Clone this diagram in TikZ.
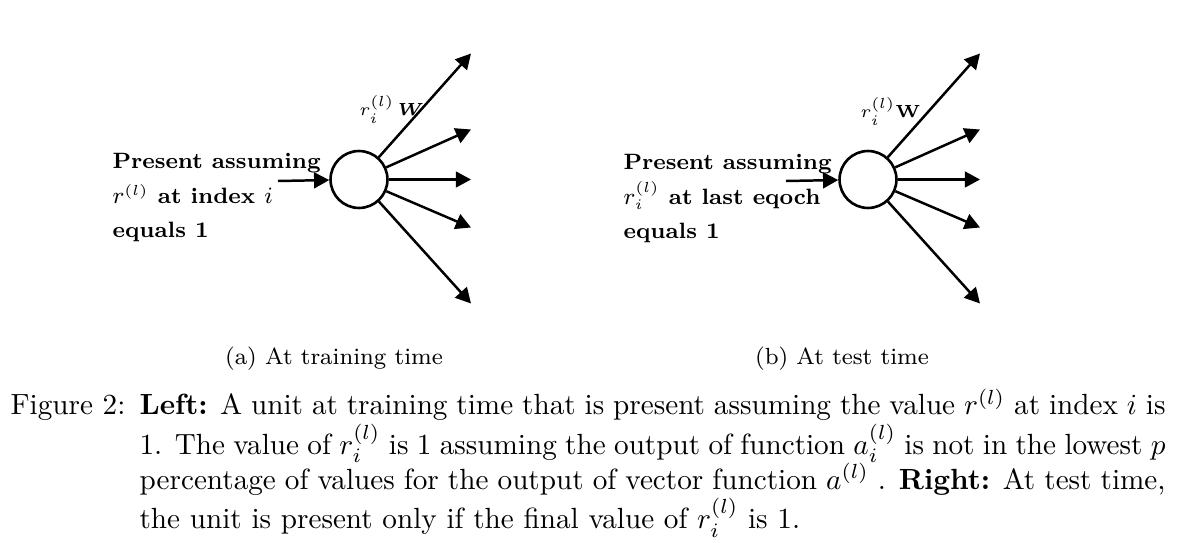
\documentclass[tikz,border=0pt]{standalone}
\usepackage{amsmath,amssymb}
\usetikzlibrary{arrows.meta,positioning}

\begin{document}
\begin{tikzpicture}[x=0.3425pt,y=-0.3425pt,
    unit/.style={circle,draw,line width=0.9pt,minimum size=19.5pt,inner sep=0pt},
    syn/.style={-{Triangle[length=5.2pt,width=5.4pt]},line width=0.85pt},
    cond/.style={font=\fontsize{7.6}{11.9}\selectfont\bfseries,align=left,anchor=base west,inner sep=0pt},
    wlab/.style={font=\fontsize{6.5}{8}\selectfont,anchor=base west,inner sep=0pt},
    sublab/.style={font=\footnotesize,anchor=base,inner sep=0pt}]
  \useasboundingbox (0,0) rectangle (1181,543);

  % left: training time
  \node[unit] (n_1) at (359,179.5) {};
  \node[cond] (c_1) at (112,238) {Present assuming\\$r^{(l)}$ at index $i$\\equals 1};
  \coordinate (in_1) at (278,181);
  \draw[syn] (in_1) -- (n_1);
  \foreach \dy [count=\k] in {-126,-50,0,48,124} {
    \path (n_1) ++(112,\dy) coordinate (a_\k);
    \draw[syn] (n_1) -- (a_\k);
  }
  \node[wlab] (w_1) at (359,116) {$r_i^{(l)}$\,$\boldsymbol{W}$};
  \node[sublab] (s_1) at (334,365) {(a) At training time};

  % right: test time
  \node[unit] (n_2) at (868,179.5) {};
  \node[cond] (c_2) at (623,239) {Present assuming\\$r_i^{(l)}$ at last eqoch\\equals 1};
  \coordinate (in_2) at (786,181);
  \draw[syn] (in_2) -- (n_2);
  \foreach \dy [count=\k] in {-126,-50,0,48,124} {
    \path (n_2) ++(112,\dy) coordinate (b_\k);
    \draw[syn] (n_2) -- (b_\k);
  }
  \node[wlab] (w_2) at (860,118) {$r_i^{(l)}\mathbf{W}$};
  \node[sublab] (s_2) at (842,365) {(b) At test time};

  % caption
  \node[anchor=base west,inner sep=0pt] (fig) at (10,415) {Figure 2:};
  \node[text width=351.4pt,align=justify,anchor=base west,inner sep=0pt] (cap) at (139,415)
    {\textbf{Left:} A unit at training time that is present assuming the value $r^{(l)}$ at index $i$ is\linebreak
    1. The value of $r_i^{(l)}$ is 1 assuming the output of function $a_i^{(l)}$ is not in the lowest $p$\linebreak
    percentage of values for the output of vector function $a^{(l)}$ . \textbf{Right:} At test time,\linebreak
    the unit is present only if the final value of $r_i^{(l)}$ is 1.};
\end{tikzpicture}
\end{document}
